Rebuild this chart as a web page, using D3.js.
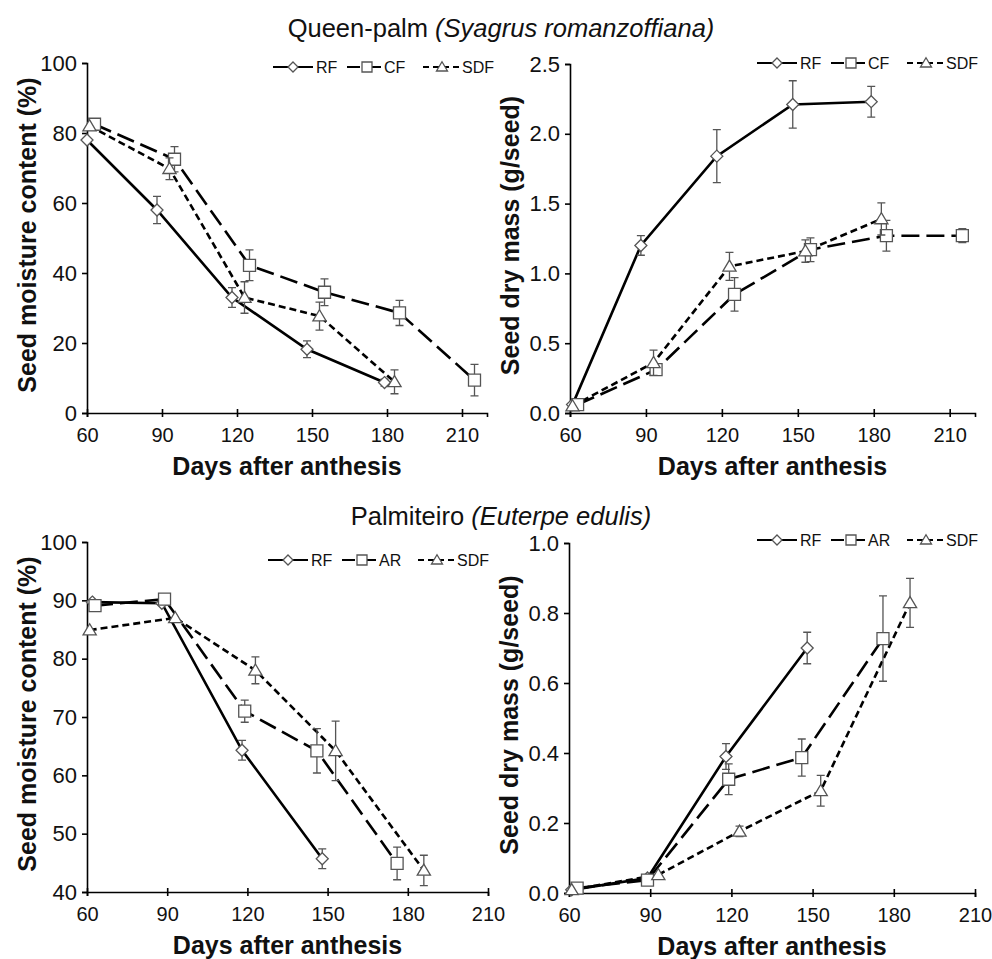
<!DOCTYPE html>
<html>
<head>
<meta charset="utf-8">
<script src="https://cdn.jsdelivr.net/npm/d3@7"></script>
<style>
  body { margin: 0; background: #fff; }
  svg { display: block; }
  text { font-family: "Liberation Sans", Arial, Helvetica, sans-serif; fill: #111; }
</style>
</head>
<body>
<svg id="chart" width="992" height="959"></svg>
<script>
// ---- data ----
const queenTitle = ['Queen-palm ', '(Syagrus romanzoffiana)'];
const palmTitle = ['Palmiteiro ', '(Euterpe edulis)'];
const queenNames = ['RF', 'CF', 'SDF'];
const palmNames = ['RF', 'AR', 'SDF'];
const xTicks = [60, 90, 120, 150, 180, 210];
const moistTicksQ = [0, 20, 40, 60, 80, 100];
const massTicksQ = [0, 0.5, 1.0, 1.5, 2.0, 2.5];
const moistTicksP = [40, 50, 60, 70, 80, 90, 100];
const massTicksP = [0, 0.2, 0.4, 0.6, 0.8, 1.0];

// each point: [days after anthesis, mean, error]
const qMoistRF = [[60, 78, 0], [88, 58, 3.9], [118, 33, 2.8], [148, 18.2, 2.4], [179, 8.7, 1]];
const qMoistCF = [[63, 82.5, 0], [95, 72.5, 3.6], [125, 42.2, 4.4], [155, 34.5, 3.8], [185, 28.6, 3.6], [215, 9.4, 4.5]];
const qMoistSDF = [[61, 82, 0], [93, 69.8, 3.1], [123, 33, 4.5], [153, 27.7, 4], [183, 8.9, 3.4]];

const qMassRF = [[61, 0.06, 0], [88, 1.2, 0.07], [118, 1.84, 0.19], [148, 2.21, 0.17], [179, 2.23, 0.11]];
const qMassCF = [[63, 0.06, 0], [94, 0.31, 0.04], [125, 0.85, 0.12], [155, 1.17, 0.085], [185, 1.27, 0.11], [215, 1.27, 0.05]];
const qMassSDF = [[61, 0.05, 0], [93, 0.36, 0.09], [123, 1.05, 0.1], [153, 1.16, 0.08], [183, 1.39, 0.115]];

const pMoistRF = [[62, 89.7, 0], [88, 89.5, 0], [118, 64.3, 1.7], [148, 45.7, 1.7]];
const pMoistAR = [[63, 89.1, 0], [89, 90.2, 0], [119, 71, 1.9], [146, 64.2, 3.8], [176, 44.9, 2.8]];
const pMoistSDF = [[61, 84.9, 0], [93, 87, 0], [123, 78, 2.3], [153, 64.2, 5.1], [186, 43.7, 2.6]];

const pMassRF = [[61, 0.009, 0], [89, 0.043, 0], [118, 0.39, 0.037], [148, 0.70, 0.045]];
const pMassAR = [[63, 0.014, 0], [89, 0.037, 0], [119, 0.325, 0.044], [146, 0.387, 0.053], [176, 0.727, 0.122]];
const pMassSDF = [[61, 0.009, 0], [93, 0.052, 0], [123, 0.176, 0.015], [153, 0.292, 0.044], [186, 0.829, 0.07]];

// ---- styling per series (RF, CF/AR, SDF) ----
const seriesStyle = [
  { dash: null, legendDash: null, marker: 'diamond' },
  { dash: '18,7', legendDash: '13,8', marker: 'square' },
  { dash: '7,4', legendDash: '6,4', marker: 'triangle' }
];

const panels = [
  { left: 87, right: 487, top: 63, bottom: 413, xMax: 220, yDomain: [0, 100], yTicks: moistTicksQ, fmt: d3.format('d'),
    yLabel: 'Seed moisture content (%)', series: [qMoistRF, qMoistCF, qMoistSDF], names: queenNames, legend: [273, 67] },
  { left: 570, right: 975, top: 64, bottom: 413, xMax: 220, yDomain: [0, 2.5], yTicks: massTicksQ, fmt: d3.format('.1f'),
    yLabel: 'Seed dry mass (g/seed)', series: [qMassRF, qMassCF, qMassSDF], names: queenNames, legend: [757, 63] },
  { left: 87, right: 488, top: 542, bottom: 892, xMax: 210, yDomain: [40, 100], yTicks: moistTicksP, fmt: d3.format('d'),
    yLabel: 'Seed moisture content (%)', series: [pMoistRF, pMoistAR, pMoistSDF], names: palmNames, legend: [268, 560] },
  { left: 569, right: 975, top: 543, bottom: 893, xMax: 210, yDomain: [0, 1.0], yTicks: massTicksP, fmt: d3.format('.1f'),
    yLabel: 'Seed dry mass (g/seed)', series: [pMassRF, pMassAR, pMassSDF], names: palmNames, legend: [757, 540] }
];

const svg = d3.select('#chart');

// titles
function title(txt, y) {
  const t = svg.append('text').attr('x', 501).attr('y', y).attr('text-anchor', 'middle').attr('font-size', '25.5px');
  t.append('tspan').text(txt[0]);
  t.append('tspan').attr('font-style', 'italic').text(txt[1]);
}
title(queenTitle, 37);
title(palmTitle, 525);

function drawMarker(g, type, x, y, s) {
  let d;
  if (type === 'diamond') d = `M${x},${y - s}L${x + s},${y}L${x},${y + s}L${x - s},${y}Z`;
  else if (type === 'square') d = `M${x - s},${y - s}h${2 * s}v${2 * s}h${-2 * s}Z`;
  else d = `M${x},${y - s * 1.05}L${x + s * 1.1},${y + s * 0.8}L${x - s * 1.1},${y + s * 0.8}Z`;
  g.append('path').attr('d', d).attr('fill', '#fff').attr('stroke', '#555').attr('stroke-width', 1.3);
}

panels.forEach(p => {
  const x = d3.scaleLinear().domain([60, p.xMax]).range([p.left, p.right]);
  const y = d3.scaleLinear().domain(p.yDomain).range([p.bottom, p.top]);
  const g = svg.append('g');

  // axes
  const xAxis = g.append('g').attr('transform', `translate(0,${p.bottom})`)
    .call(d3.axisBottom(x).tickValues(xTicks).tickSizeOuter(0).tickSize(4));
  xAxis.selectAll('.tick line').attr('y1', -4).attr('y2', 4);
  xAxis.selectAll('.tick text').attr('y', 15).attr('font-size', '20px');

  const yAxis = g.append('g').attr('transform', `translate(${p.left},0)`)
    .call(d3.axisLeft(y).tickValues(p.yTicks).tickFormat(p.fmt).tickSizeOuter(0).tickSize(5).tickPadding(5));
  yAxis.selectAll('.tick text').attr('font-size', '22px');
  g.selectAll('.domain, .tick line').attr('stroke', '#000').attr('stroke-width', 1.6);
  g.selectAll('.tick text').attr('fill', '#111').attr('font-family', '"Liberation Sans", Arial, sans-serif');

  // axis titles
  g.append('text').attr('x', (p.left + p.right) / 2).attr('y', p.bottom + 62)
    .attr('text-anchor', 'middle').attr('font-size', '25px').attr('font-weight', 'bold')
    .text('Days after anthesis');
  g.append('text')
    .attr('transform', `translate(${p.left - 51},${(p.top + p.bottom) / 2 - 3}) rotate(-90)`)
    .attr('text-anchor', 'middle').attr('font-size', '25px').attr('font-weight', 'bold')
    .text(p.yLabel);

  const line = d3.line().x(d => x(d[0])).y(d => y(d[1]));

  // series lines
  p.series.forEach((data, i) => {
    g.append('path').datum(data).attr('d', line)
      .attr('fill', 'none').attr('stroke', '#000').attr('stroke-width', 2.6)
      .attr('stroke-dasharray', seriesStyle[i].dash);
  });

  // error bars + markers
  p.series.forEach((data, i) => {
    data.filter(d => d[2] > 0).forEach(d => {
      const cx = x(d[0]), y1 = y(d[1] + d[2]), y2 = y(d[1] - d[2]);
      g.append('path')
        .attr('d', `M${cx},${y1}V${y2}M${cx - 4},${y1}h8M${cx - 4},${y2}h8`)
        .attr('stroke', '#555').attr('stroke-width', 1.3).attr('fill', 'none');
    });
    data.forEach(d => drawMarker(g, seriesStyle[i].marker, x(d[0]), y(d[1]), 6));
  });

  // legend
  const lg = g.append('g').attr('transform', `translate(${p.legend[0]},${p.legend[1]})`);
  const items = [[0, 40, 20, 43], [74, 109, 94, 111], [150, 187, 169, 189]];
  p.names.forEach((name, i) => {
    const [a, b, m, t] = items[i];
    lg.append('line').attr('x1', a).attr('x2', b).attr('y1', 0).attr('y2', 0)
      .attr('stroke', '#000').attr('stroke-width', 2.2)
      .attr('stroke-dasharray', seriesStyle[i].legendDash);
    drawMarker(lg, seriesStyle[i].marker, m, 0, 5);
    lg.append('text').attr('x', t).attr('y', 5.8).attr('font-size', '16px').attr('fill', '#222').text(name);
  });
});
</script>
</body>
</html>
